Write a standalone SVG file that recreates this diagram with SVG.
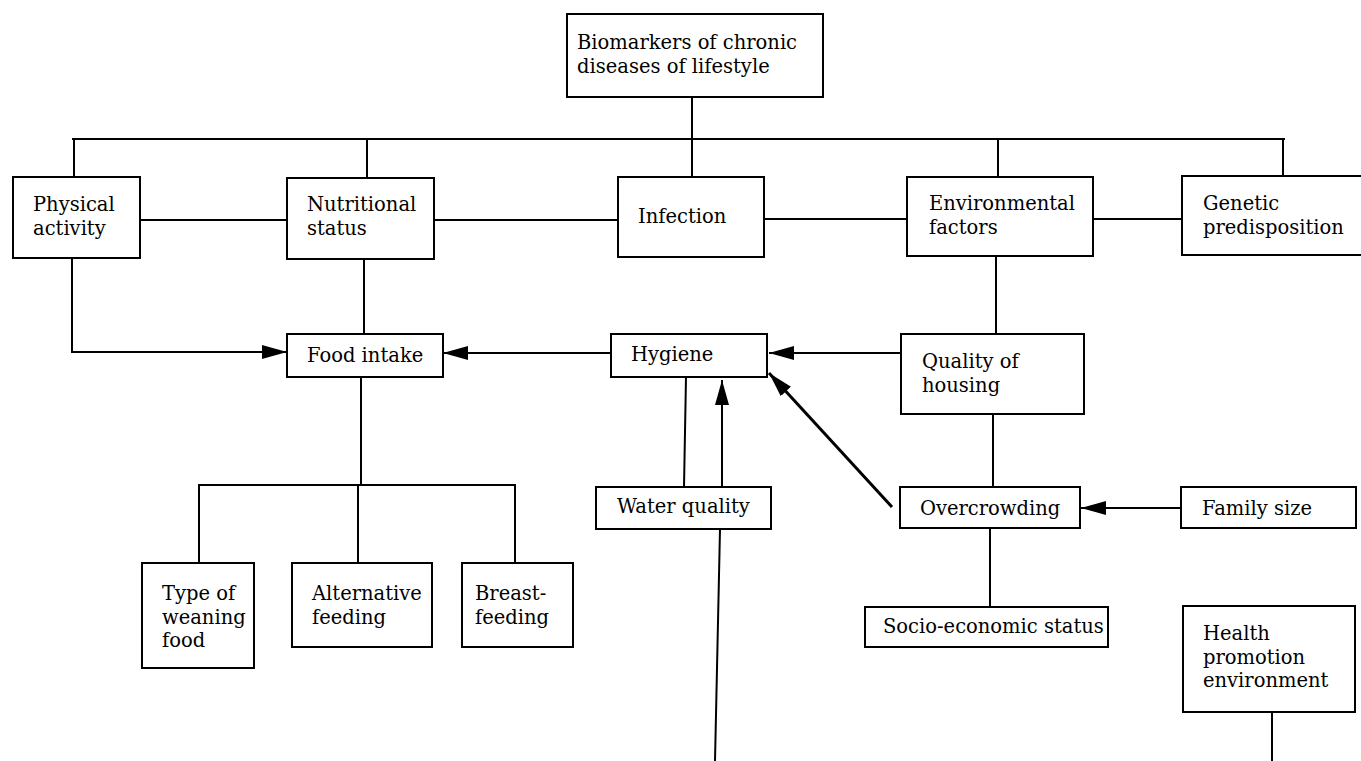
<svg xmlns="http://www.w3.org/2000/svg" width="1361" height="761" viewBox="0 0 1361 761">
<style>
  .box { fill: #ffffff; stroke: #000; stroke-width: 2; }
  .ln { fill: none; stroke: #000; stroke-width: 2; }
  .arr { fill: none; stroke: #000; stroke-width: 2; marker-end: url(#ah); }
  .diag { fill: none; stroke: #000; stroke-width: 3; marker-end: url(#ah); }
  text { font-family: "DejaVu Serif", "Liberation Serif", serif; font-size: 19.5px; fill: #000; }
</style>
<defs>
  <marker id="ah" viewBox="0 0 25 14" refX="25" refY="7" markerWidth="25" markerHeight="14" markerUnits="userSpaceOnUse" orient="auto">
    <path d="M0,0 L25,7 L0,14 Z" fill="#000"/>
  </marker>
</defs>
<rect width="1361" height="761" fill="#ffffff"/>

<g id="connectors">
  <path class="ln" d="M692,97 V177"/>
  <path class="ln" d="M72,139 H1285"/>
  <path class="ln" d="M74,139 V177"/>
  <path class="ln" d="M367,139 V178"/>
  <path class="ln" d="M998,139 V177"/>
  <path class="ln" d="M1283,139 V176"/>
  <path class="ln" d="M140,220 H287"/>
  <path class="ln" d="M434,220 H618"/>
  <path class="ln" d="M764,219 H907"/>
  <path class="ln" d="M1093,219 H1182"/>
  <path class="arr" d="M72,258 V352 H287"/>
  <path class="ln" d="M364,259 V334"/>
  <path class="arr" d="M611,353 H443"/>
  <path class="arr" d="M901,353 H769"/>
  <path class="ln" d="M996,256 V334"/>
  <path class="ln" d="M993,414 V487"/>
  <path class="diag" d="M892,507 L769,373"/>
  <path class="arr" d="M1181,508 H1081"/>
  <path class="ln" d="M990,528 V607"/>
  <path class="ln" d="M686,377 L684,487"/>
  <path class="arr" d="M722,487 V380"/>
  <path class="ln" d="M720,529 L715,761"/>
  <path class="ln" d="M361,377 V485"/>
  <path class="ln" d="M198,485 H516"/>
  <path class="ln" d="M199,485 V563"/>
  <path class="ln" d="M358,485 V563"/>
  <path class="ln" d="M515,485 V563"/>
  <path class="ln" d="M1272,712 V761"/>
</g>

<g id="biomarkers">
  <rect class="box" x="567" y="14" width="256" height="83"/>
  <text x="577" y="49">Biomarkers of chronic</text>
  <text x="577" y="73">diseases of lifestyle</text>
</g>
<g id="physical-activity">
  <rect class="box" x="13" y="177" width="127" height="81"/>
  <text x="33" y="211">Physical</text>
  <text x="33" y="234.5">activity</text>
</g>
<g id="nutritional-status">
  <rect class="box" x="287" y="178" width="147" height="81"/>
  <text x="307" y="211">Nutritional</text>
  <text x="307" y="234.5">status</text>
</g>
<g id="infection">
  <rect class="box" x="618" y="177" width="146" height="80"/>
  <text x="638" y="223">Infection</text>
</g>
<g id="environmental-factors">
  <rect class="box" x="907" y="177" width="186" height="79"/>
  <text x="929" y="210">Environmental</text>
  <text x="929" y="234">factors</text>
</g>
<g id="genetic-predisposition">
  <rect class="box" x="1182" y="176" width="182" height="79"/>
  <text x="1203" y="210">Genetic</text>
  <text x="1203" y="234">predisposition</text>
</g>
<g id="food-intake">
  <rect class="box" x="287" y="334" width="156" height="43"/>
  <text x="307" y="362">Food intake</text>
</g>
<g id="hygiene">
  <rect class="box" x="611" y="334" width="156" height="43"/>
  <text x="631" y="361">Hygiene</text>
</g>
<g id="quality-of-housing">
  <rect class="box" x="901" y="334" width="183" height="80"/>
  <text x="922" y="368">Quality of</text>
  <text x="922" y="392">housing</text>
</g>
<g id="water-quality">
  <rect class="box" x="596" y="487" width="175" height="42"/>
  <text x="617" y="513">Water quality</text>
</g>
<g id="overcrowding">
  <rect class="box" x="900" y="487" width="180" height="41"/>
  <text x="920" y="515">Overcrowding</text>
</g>
<g id="family-size">
  <rect class="box" x="1181" y="487" width="175" height="41"/>
  <text x="1202" y="515">Family size</text>
</g>
<g id="type-of-weaning-food">
  <rect class="box" x="142" y="563" width="112" height="105"/>
  <text x="162" y="600">Type of</text>
  <text x="162" y="623.5">weaning</text>
  <text x="162" y="647">food</text>
</g>
<g id="alternative-feeding">
  <rect class="box" x="292" y="563" width="140" height="84"/>
  <text x="312" y="600">Alternative</text>
  <text x="312" y="623.5">feeding</text>
</g>
<g id="breast-feeding">
  <rect class="box" x="462" y="563" width="111" height="84"/>
  <text x="475" y="600">Breast-</text>
  <text x="475" y="623.5">feeding</text>
</g>
<g id="socio-economic-status">
  <rect class="box" x="865" y="607" width="243" height="40"/>
  <text x="883" y="633">Socio-economic status</text>
</g>
<g id="health-promotion-environment">
  <rect class="box" x="1183" y="606" width="172" height="106"/>
  <text x="1203" y="640">Health</text>
  <text x="1203" y="663.5">promotion</text>
  <text x="1203" y="687">environment</text>
</g>
</svg>
